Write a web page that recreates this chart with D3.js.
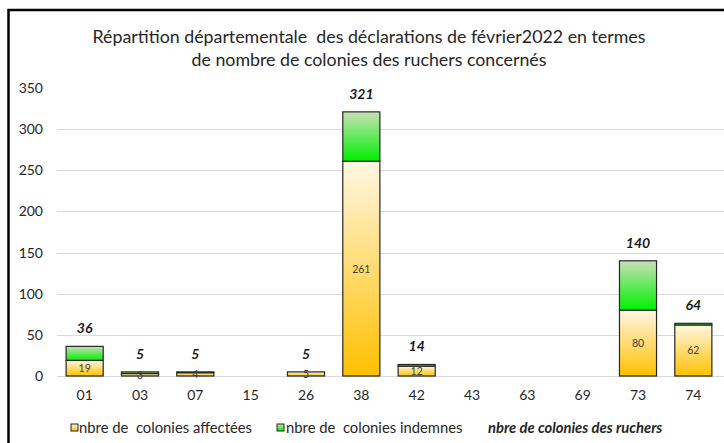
<!DOCTYPE html>
<html>
<head>
	<meta charset="UTF-8">
	<script src="https://d3js.org/d3.v7.min.js"></script>
	<title>Répartition départementale</title>
	<style>
		body { margin: 0; background: #fff; }
		svg { display: block; font-family: Lato, "Open Sans", sans-serif; }
		svg text { white-space: pre; }
	</style>
</head>
<body>
	<svg></svg>
	<script type="text/javascript">

		// données
		const departements = ["01", "03", "07", "15", "26", "38", "42", "43", "63", "69", "73", "74"];
		const affectees = [19, 3, 4, 0, 5, 261, 12, 0, 0, 0, 80, 62];
		const indemnes = [17, 2, 1, 0, 0, 60, 2, 0, 0, 0, 60, 2];
		const totaux = [36, 5, 5, null, 5, 321, 14, null, null, null, 140, 64];
		const yTicks = [0, 50, 100, 150, 200, 250, 300, 350];

		const titre = [
			"Répartition départementale  des déclarations de février2022 en termes",
			"de nombre de colonies des ruchers concernés"
		];
		const legendes = ["nbre de  colonies affectées", "nbre de  colonies indemnes", "nbre de colonies des ruchers"];

		const width = 724;
		const height = 443;
		const margin = {top: 88, right: 3, bottom: 67, left: 57};

		const data = departements.map((d, i) => ({
			dep: d, affectees: affectees[i], indemnes: indemnes[i], total: totaux[i]
		}));

		const svg = d3.select("svg")
			.attr("width", width)
			.attr("height", height)
			.attr("viewBox", [0, 0, width, height]);

		// dégradés
		const defs = svg.append("defs");
		const grad = (id, c0, c1) => {
			const g = defs.append("linearGradient")
				.attr("id", id)
				.attr("x1", 0).attr("y1", 0).attr("x2", 0).attr("y2", 1);
			g.append("stop").attr("offset", "0%").attr("stop-color", c0);
			g.append("stop").attr("offset", "100%").attr("stop-color", c1);
		};
		grad("gAff", "#fff7e3", "#ffc000");
		grad("gInd", "#c8e0b8", "#00f000");

		// cadre
		svg.append("path")
			.attr("d", "M8.5,450 V10 H730")
			.attr("fill", "none")
			.attr("stroke", "#000")
			.attr("stroke-width", 2.5);

		const x = d3.scaleBand()
			.domain(departements)
			.range([margin.left, width - margin.right])
			.paddingInner(0.33)
			.paddingOuter(0.165);

		const y = d3.scaleLinear()
			.domain([0, 350])
			.range([height - margin.bottom, margin.top]);

		// titre
		svg.append("g")
			.selectAll("text")
			.data(titre)
			.join("text")
				.attr("x", 369)
				.attr("y", (d, i) => 43 + i * 23)
				.attr("text-anchor", "middle")
				.attr("font-size", 17.8)
				.attr("fill", "#262626")
				.text(d => d);

		// grille
		svg.append("g")
			.selectAll("line")
			.data(yTicks.filter(t => t < 350))
			.join("line")
				.attr("x1", margin.left)
				.attr("x2", width)
				.attr("y1", d => Math.round(y(d)) + 0.5)
				.attr("y2", d => Math.round(y(d)) + 0.5)
				.attr("stroke", "#d9d9d9")
				.attr("stroke-width", 1);

		// axe y
		const yAxis = g => g
			.attr("transform", `translate(${margin.left},0)`)
			.call(d3.axisLeft(y).tickValues(yTicks).tickSize(0).tickPadding(14))
			.call(g => g.select(".domain").remove())
			.call(g => g.selectAll("text")
				.attr("font-family", "Lato, sans-serif")
				.attr("font-size", 14)
				.attr("fill", "#262626"));
		svg.append("g").call(yAxis);

		// axe x
		const xAxis = g => g
			.attr("transform", `translate(0,${height - margin.bottom})`)
			.call(d3.axisBottom(x).tickSize(0).tickPadding(14))
			.call(g => g.select(".domain").remove())
			.call(g => g.selectAll("text")
				.attr("font-family", "Lato, sans-serif")
				.attr("font-size", 14)
				.attr("fill", "#262626"));
		svg.append("g").call(xAxis);

		// barres empilées
		const stack = d3.stack().keys(["affectees", "indemnes"])(data);
		const fills = {affectees: "url(#gAff)", indemnes: "url(#gInd)"};

		svg.append("g")
			.selectAll("g")
			.data(stack)
			.join("g")
				.attr("fill", d => fills[d.key])
			.selectAll("rect")
			.data(d => d.filter(p => p[1] > p[0] || p.data[d.key] > 0))
			.join("rect")
				.attr("x", d => x(d.data.dep))
				.attr("y", d => y(d[1]))
				.attr("width", x.bandwidth())
				.attr("height", d => y(d[0]) - y(d[1]))
				.attr("stroke", "#262626")
				.attr("stroke-width", 1.2);

		// étiquettes affectées
		svg.append("g")
			.selectAll("text")
			.data(data.filter(d => d.affectees > 0))
			.join("text")
				.attr("x", d => x(d.dep) + x.bandwidth() / 2)
				.attr("y", d => (y(0) + y(d.affectees)) / 2 + 4)
				.attr("text-anchor", "middle")
				.attr("font-size", 10.5)
				.attr("fill", "#404040")
				.text(d => d.affectees);

		// étiquettes totaux
		svg.append("g")
			.selectAll("text")
			.data(data.filter(d => d.total != null))
			.join("text")
				.attr("x", d => x(d.dep) + x.bandwidth() / 2)
				.attr("y", d => y(d.total) - 13)
				.attr("text-anchor", "middle")
				.attr("font-size", 14)
				.attr("font-weight", "bold")
				.attr("font-style", "italic")
				.attr("fill", "#1a1a1a")
				.text(d => d.total);

		// légende
		const leg = svg.append("g").attr("transform", "translate(0,428)");
		const legX = [71, 277];
		leg.selectAll("rect")
			.data(["url(#gAff)", "url(#gInd)"])
			.join("rect")
				.attr("x", (d, i) => legX[i])
				.attr("y", -4)
				.attr("width", 7)
				.attr("height", 7)
				.attr("fill", d => d)
				.attr("stroke", "#262626")
				.attr("stroke-width", 1);
		leg.selectAll("text")
			.data(legendes)
			.join("text")
				.attr("x", (d, i) => [79, 286, 488][i])
				.attr("y", 5)
				.attr("font-size", 14.8)
				.attr("font-weight", (d, i) => i === 2 ? "bold" : null)
				.attr("font-style", (d, i) => i === 2 ? "italic" : null)
				.attr("fill", "#262626")
				.text(d => d);

	</script>
</body>
</html>
